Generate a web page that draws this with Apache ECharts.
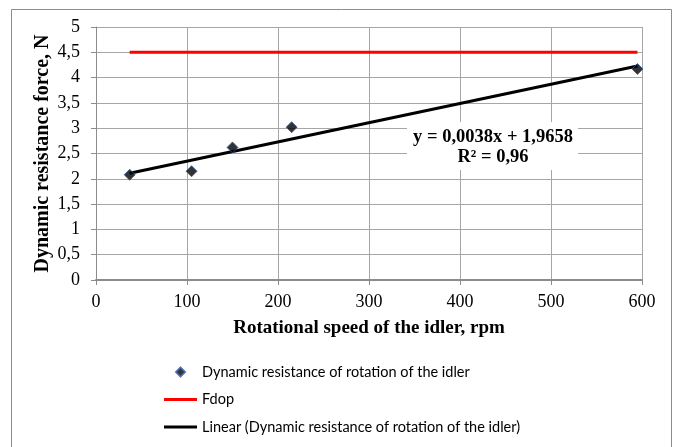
<!DOCTYPE html>
<html><head><meta charset="utf-8">
<script src="https://cdn.jsdelivr.net/npm/echarts@6/dist/echarts.min.js"></script>
<style>html,body{margin:0;padding:0;background:#fff}#c{width:677px;height:447px}</style>
</head><body><div id="c"></div>
<script>
const measuredX = [37, 105, 150, 215, 595];
const measuredY = [2.08, 2.15, 2.62, 3.02, 4.17];
const fdopX = [37, 595];
const fdopY = [4.5, 4.5];
const trendX = [37, 595];
const trendY = [2.11, 4.23];
const seriesNames = ['Dynamic resistance of rotation of the idler', 'Fdop', 'Linear (Dynamic resistance of rotation of the idler)'];
const equationLines = ['y = 0,0038x + 1,9658', 'R² = 0,96'];
const xTitle = 'Rotational speed of the idler, rpm';
const yTitle = 'Dynamic resistance force, N';

const zip = (a, b) => a.map((v, i) => [v, b[i]]);
const serif = 'Liberation Serif';
const linePath = 'path://M0,0H33V3H0Z';
const diamondPath = 'path://M4,0L8,4L4,8L0,4Z';
const tickRich = { t: { fontFamily: serif, fontSize: 18, color: '#000' } };
const chart = echarts.init(document.getElementById('c'));
chart.setOption({
  animation: false,
  backgroundColor: '#fff',
  textStyle: { fontFamily: serif },
  grid: { left: 96, right: 35, top: 27, bottom: 167 },
  xAxis: {
    type: 'value', min: 0, max: 600, interval: 100,
    name: xTitle, nameLocation: 'middle', nameGap: 39, nameMoveOverlap: false,
    nameTextStyle: { fontFamily: serif, fontWeight: 'bold', fontSize: 19, color: '#000' },
    axisLine: { show: true, lineStyle: { color: '#8c8c8c', width: 2 } },
    axisTick: { show: true, length: 5, lineStyle: { color: '#8c8c8c' } },
    axisLabel: { margin: 13, formatter: v => '{t|' + v + '}', rich: tickRich },
    splitLine: { show: true, lineStyle: { color: '#a6a6a6', width: 1 } }
  },
  yAxis: {
    type: 'value', min: 0, max: 5, interval: 0.5,
    name: yTitle, nameLocation: 'middle', nameGap: 43, nameRotate: 90, nameMoveOverlap: false,
    nameTextStyle: { fontFamily: serif, fontWeight: 'bold', fontSize: 20, color: '#000' },
    axisLine: { show: true, lineStyle: { color: '#8c8c8c', width: 1 } },
    axisTick: { show: true, length: 5, lineStyle: { color: '#8c8c8c' } },
    axisLabel: { margin: 16, formatter: v => '{t|' + String(v).replace('.', ',') + '}', rich: tickRich },
    splitLine: { show: true, lineStyle: { color: '#a6a6a6', width: 1 } }
  },
  legend: {
    orient: 'vertical', left: 159, top: 359, itemGap: 11.5, itemWidth: 33, itemHeight: 9,
    textStyle: { fontFamily: 'Lato', fontSize: 14.5, color: '#000', lineHeight: 16 },
    data: [
      { name: seriesNames[0], icon: diamondPath },
      { name: seriesNames[1], icon: linePath },
      { name: seriesNames[2], icon: linePath }
    ]
  },
  series: [
    {
      name: seriesNames[1], type: 'line', data: zip(fdopX, fdopY), symbol: 'none',
      lineStyle: { color: '#ff0000', width: 3 }, itemStyle: { color: '#ff0000' }, z: 2
    },
    {
      name: seriesNames[2], type: 'line', data: zip(trendX, trendY), symbol: 'none',
      lineStyle: { color: '#000', width: 3 }, itemStyle: { color: '#000' }, z: 3
    },
    {
      name: seriesNames[0], type: 'scatter', data: zip(measuredX, measuredY), symbol: 'diamond',
      symbolSize: 11, itemStyle: { color: '#000', borderColor: '#3a5f9f', borderWidth: 1 }, z: 4
    }
  ],
  graphic: [
    { type: 'rect', shape: { x: 11.5, y: 9.5, width: 660, height: 460 }, silent: true,
      style: { fill: 'none', stroke: '#8c8c8c', lineWidth: 1 }, z: -10 },
    { type: 'rect', shape: { x: 407, y: 122, width: 171, height: 48 },
      style: { fill: '#fff' }, z: 50 },
    { type: 'text', x: 493, y: 127, z: 51,
      style: { text: equationLines.join('\n'), align: 'center', verticalAlign: 'top',
        font: 'bold 18.5px "Liberation Serif"', fill: '#000', lineHeight: 20 } }
  ]
});
</script></body></html>
